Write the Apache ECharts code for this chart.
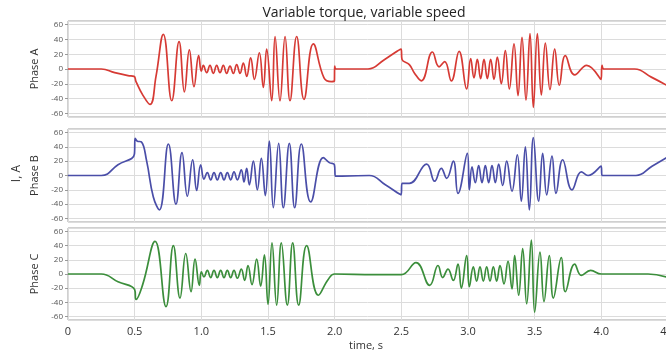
<!DOCTYPE html>
<html><head><meta charset="utf-8">
<script src="https://cdn.jsdelivr.net/npm/echarts@6/dist/echarts.min.js"></script>
<style>html,body{margin:0;padding:0;background:#fff}#c{width:666px;height:351px}</style>
</head><body><div id="c"></div>
<script>
const titleText = 'Variable torque, variable speed';
const panelNames = ['Phase A', 'Phase B', 'Phase C'];
const xTickLabels = ['0', '0.5', '1.0', '1.5', '2.0', '2.5', '3.0', '3.5', '4.0', '4.5'];
const yTickValues = [-60, -40, -20, 0, 20, 40, 60];

const phaseA = [
  [0,0],[0.25,0],[0.35,-5],[0.45,-9],[0.495,-10],[0.51,-17],[0.56,-35],[0.615,-48],[0.66,-10],[0.715,47],
  [0.778,-43],[0.833,37],[0.873,-31],[0.91,26],[0.945,-24],[0.98,18],[1.0,-3],
  [1.015,5],[1.04,-5],[1.065,5],[1.09,-6],[1.115,5],[1.14,-5],[1.165,5],[1.19,-6],[1.215,4],[1.24,-6],
  [1.265,6],[1.29,-6],[1.315,8],[1.34,-10],[1.37,15],[1.398,-14],[1.435,22],[1.465,-25],[1.49,27],
  [1.528,-43],[1.553,44],[1.59,-43],[1.628,44],[1.665,-43],[1.715,44],[1.77,-41],[1.84,34],[1.92,-12],[1.975,-17],
  [1.998,-16],[2.0,4],[2.012,0],[2.25,0],[2.375,13],[2.498,27],[2.505,13],[2.56,6],[2.6,-6],[2.65,-16],[2.733,23],
  [2.783,3],[2.825,10],[2.875,-16],[2.933,24],[2.99,-27],[3.02,14],[3.045,-12],[3.07,13],[3.095,-13],
  [3.12,13],[3.145,-13],[3.17,13],[3.195,-14],[3.22,16],[3.25,-20],[3.28,25],[3.31,-27],[3.345,34],
  [3.375,-36],[3.405,43],[3.435,-42],[3.465,48],[3.49,-52],[3.52,48],[3.55,-35],[3.58,35],[3.615,-28],
  [3.65,27],[3.685,-22],[3.73,18],[3.8,-8],[3.89,5],[3.998,-14],[4.005,5],[4.02,0],[4.25,0],[4.375,-11],[4.5,-23]
];

const phaseB = [
  [0,0],[0.25,0],[0.375,15],[0.498,30],[0.503,52],[0.52,48],[0.55,47],[0.59,20],[0.64,-30],[0.685,-48],
  [0.753,44],[0.81,-40],[0.855,32],[0.895,-29],[0.935,22],[0.965,-21],[0.995,15],
  [1.02,-5],[1.045,4],[1.07,-6],[1.095,4],[1.12,-6],[1.145,4],[1.17,-6],[1.195,4],[1.22,-6],[1.245,5],
  [1.27,-6],[1.3,8],[1.32,-9],[1.34,10],[1.36,-13],[1.39,20],[1.42,-20],[1.45,24],[1.48,-28],[1.51,48],
  [1.54,-45],[1.58,45],[1.615,-45],[1.66,45],[1.70,-45],[1.75,44],[1.82,-37],[1.915,25],[1.96,18],[1.998,15],
  [2.006,-1],[2.26,0],[2.38,-13],[2.498,-27],[2.505,-11],[2.56,-11],[2.69,16],[2.75,-8],[2.8,10],[2.84,-4],[2.89,20],
  [2.925,-25],[2.995,31],[3.01,-20],[3.03,12],[3.055,-10],[3.08,14],[3.105,-10],[3.13,14],[3.155,-10],
  [3.18,14],[3.205,-10],[3.23,16],[3.26,-14],[3.29,20],[3.33,-22],[3.37,29],[3.40,-36],[3.43,40],
  [3.46,-48],[3.49,53],[3.53,-36],[3.56,31],[3.59,-27],[3.63,27],[3.66,-25],[3.71,22],[3.78,-20],
  [3.85,5],[3.9,0],[3.998,13],[4.006,0],[4.26,0],[4.38,13],[4.5,26]
];

const phaseC = [
  [0,0],[0.25,0],[0.375,-11],[0.5,-22],[0.51,-36],[0.56,-15],[0.653,46],[0.735,-46],[0.79,40],[0.84,-34],
  [0.883,29],[0.923,-25],[0.953,21],[0.985,-16],[1.0,3],[1.02,-4],[1.045,5],[1.07,-5],[1.095,5],
  [1.12,-5],[1.145,5],[1.17,-5],[1.195,5],[1.22,-5],[1.245,5],[1.27,-6],[1.3,7],[1.325,-9],[1.35,12],
  [1.38,-15],[1.415,21],[1.445,-17],[1.473,27],[1.50,-43],[1.53,44],[1.565,-44],[1.60,44],[1.645,-44],
  [1.685,44],[1.73,-44],[1.79,40],[1.878,-30],[1.95,-8],[2.0,0],[2.3,-1],[2.5,-1],[2.61,16],[2.713,-16],
  [2.775,12],[2.81,-5],[2.85,7],[2.89,-9],[2.925,14],[2.95,-20],[2.99,26],[3.01,-18],[3.04,10],
  [3.065,-10],[3.09,10],[3.115,-10],[3.14,10],[3.165,-10],[3.19,10],[3.215,-10],[3.24,12],[3.27,-14],
  [3.30,18],[3.33,-21],[3.35,26],[3.38,-30],[3.41,36],[3.44,-42],[3.475,48],[3.50,-54],[3.54,31],
  [3.57,-39],[3.61,26],[3.64,-34],[3.70,23],[3.73,-25],[3.80,14],[3.85,-2],[3.92,5],[4.0,0],[4.35,0],[4.5,-5]
];

const seriesData = [phaseA, phaseB, phaseC];
const seriesColors = ['#d63a34', '#4a4ea8', '#3b8e3b'];

const gridBoxes = [
  { top: 21, height: 96 },
  { top: 129, height: 93 },
  { top: 228, height: 92 }
];

const chart = echarts.init(document.getElementById('c'), null, { renderer: 'canvas' });
const font = '"Open Sans", "DejaVu Sans", sans-serif';

const option = {
  animation: false,
  backgroundColor: '#fff',
  title: [
    { text: titleText, left: 359, top: 1, textAlign: 'center',
      textStyle: { fontFamily: font, fontSize: 14, fontWeight: 'normal', color: '#222' } },
    { text: 'time, s', left: 361, top: 335, textAlign: 'center',
      textStyle: { fontFamily: font, fontSize: 11, fontWeight: 'normal', color: '#333' } }
  ],
  graphic: [
    { type: 'text', left: 11, top: 165, rotation: Math.PI / 2,
      style: { text: 'I, A', font: '12px ' + font, fill: '#333' } }
  ],
  grid: gridBoxes.map(g => ({
    left: 68, width: 600, top: g.top, height: g.height,
    outerBoundsMode: 'none', containLabel: false,
    show: true, borderColor: '#a0a0a0', borderWidth: 1, backgroundColor: '#fff'
  })),
  xAxis: gridBoxes.map((g, i) => ({
    type: 'value', gridIndex: i, min: 0, max: 4.5, interval: 0.5,
    axisLine: { show: false },
    axisTick: { show: false },
    splitLine: { show: true, lineStyle: { color: '#dcdcdc', width: 1 } },
    axisLabel: {
      show: i === 2, margin: 6, fontFamily: font, fontSize: 11, color: '#333',
      formatter: v => xTickLabels[Math.round(v / 0.5)]
    }
  })),
  yAxis: gridBoxes.map((g, i) => ({
    type: 'value', gridIndex: i, min: -65, max: 65, splitNumber: 6,
    name: panelNames[i], nameLocation: 'middle', nameGap: 21,
    nameTextStyle: { fontFamily: font, fontSize: 11, color: '#333' },
    axisLine: { show: false },
    axisTick: { show: true, length: 3, lineStyle: { color: '#999' } },
    splitLine: { show: true, lineStyle: { color: '#dcdcdc', width: 1 } },
    axisLabel: {
      margin: 5, fontFamily: font, fontSize: 8, color: '#555',
      showMinLabel: false, showMaxLabel: false,
      formatter: v => (yTickValues.indexOf(v) >= 0 ? String(v) : '')
    }
  })),
  series: seriesData.map((d, i) => ({
    type: 'line', xAxisIndex: i, yAxisIndex: i, data: d,
    showSymbol: false, symbol: 'none', smooth: 0.45,
    lineStyle: { color: seriesColors[i], width: 1.7 },
    silent: true
  }))
};
chart.setOption(option);
</script>
</body></html>
